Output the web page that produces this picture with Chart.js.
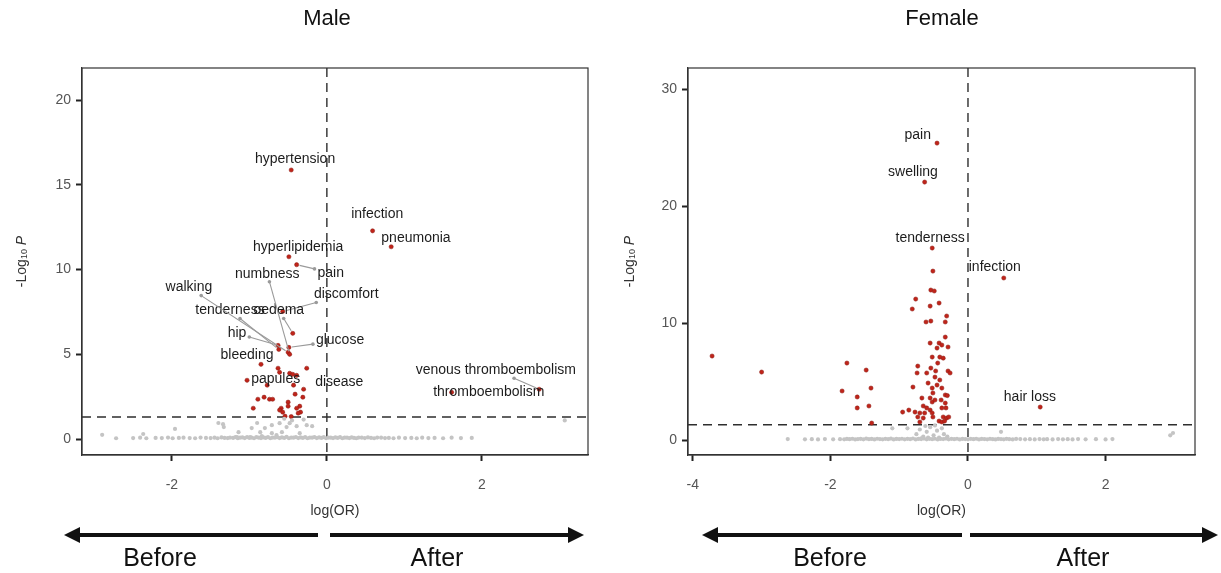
<!DOCTYPE html>
<html>
<head>
<meta charset="utf-8">
<script src="https://cdn.jsdelivr.net/npm/chart.js@4/dist/chart.umd.min.js"></script>
<style>
  body { margin: 0; background: #fff; width: 1221px; height: 573px; overflow: hidden; position: relative; font-family: "Liberation Sans", Arial, sans-serif; }
  canvas { position: absolute; top: 0; }
  #maleChart { left: 0; }
  #femaleChart { left: 610px; }
  .title { position: absolute; top: 3px; width: 200px; text-align: center; font-size: 22px; line-height: 30px; color: #111; }
  .side { position: absolute; top: 541px; width: 160px; text-align: center; font-size: 25px; line-height: 32px; color: #111; }
  svg { position: absolute; left: 0; top: 0; }
</style>
</head>
<body>
<canvas id="maleChart" width="610" height="530"></canvas>
<canvas id="femaleChart" width="611" height="530"></canvas>
<div class="title" style="left:227px">Male</div>
<div class="title" style="left:842px">Female</div>
<svg width="1221" height="573">
  <g fill="#111" stroke="#111">
    <line x1="76" y1="535" x2="318" y2="535" stroke-width="4"/>
    <polygon points="64,535 80,527 80,543" stroke="none"/>
    <line x1="330" y1="535" x2="572" y2="535" stroke-width="4"/>
    <polygon points="584,535 568,527 568,543" stroke="none"/>
    <line x1="714" y1="535" x2="962" y2="535" stroke-width="4"/>
    <polygon points="702,535 718,527 718,543" stroke="none"/>
    <line x1="970" y1="535" x2="1206" y2="535" stroke-width="4"/>
    <polygon points="1218,535 1202,527 1202,543" stroke="none"/>
  </g>
</svg>
<div class="side" style="left:80px">Before</div>
<div class="side" style="left:357px">After</div>
<div class="side" style="left:750px">Before</div>
<div class="side" style="left:1003px">After</div>
<script>
// ---- Male: significant points (log OR, -log10 P) ----
const maleSigX = [-0.46, 0.59, 0.83, -0.49, -0.39, -0.57, -0.44, -0.63, -0.62, -0.49, -0.50, -0.48, -0.85, -1.03, -0.26, 2.74, 1.61,
  -0.63, -0.61, -0.48, -0.44, -0.39, -0.77, -0.43, -0.30, -0.41, -0.81, -0.89, -0.74, -0.70, -0.31, -0.50, -0.59, -0.61, -0.95,
  -0.50, -0.35, -0.39, -0.34, -0.37, -0.57, -0.54, -0.46];
const maleSigY = [15.88, 12.29, 11.35, 10.76, 10.29, 7.53, 6.24, 5.53, 5.29, 5.41, 5.12, 5.00, 4.41, 3.47, 4.18, 2.94, 2.76,
  4.18, 3.94, 3.88, 3.82, 3.76, 3.18, 3.18, 2.94, 2.65, 2.47, 2.35, 2.35, 2.35, 2.47, 2.18, 1.82, 1.71, 1.82,
  1.94, 1.94, 1.82, 1.59, 1.53, 1.59, 1.35, 1.33];

// ---- Male: non-significant points ----
const maleNsX = [-2.90, -2.72, -2.37, -1.96, -1.40, -1.34, -1.33, -1.14, -0.97, -0.86, -0.80, -0.71, -0.61, -0.58, -0.52, -0.48,
  -0.39, -0.35, -0.26, -0.19, -0.71, -0.65, -0.84, -0.99, -1.16, -0.45, -0.30, -0.55, -0.90, 3.07,
  -2.50, -2.41, -2.33, -2.21, -2.13, -2.05, -1.99, -1.91, -1.85, -1.77, -1.70, -1.63, -1.56, -1.50, -1.45, -1.41, -1.36, -1.32,
  -1.28, -1.25, -1.21, -1.18, -1.15, -1.12, -1.09, -1.06, -1.03, -1.00, -0.97, -0.94, -0.91, -0.88, -0.85, -0.82, -0.79,
  -0.76, -0.73, -0.70, -0.67, -0.64, -0.61, -0.58, -0.55, -0.52, -0.49, -0.46, -0.43, -0.40, -0.37, -0.34, -0.31, -0.28,
  -0.25, -0.22, -0.19, -0.16, -0.13, -0.10, -0.07, -0.04, -0.01, 0.02, 0.05, 0.08, 0.11, 0.14, 0.17, 0.20, 0.23, 0.26,
  0.29, 0.32, 0.35, 0.38, 0.41, 0.45, 0.49, 0.53, 0.57, 0.61, 0.65, 0.70, 0.75, 0.80, 0.86,
  0.93, 1.01, 1.09, 1.16, 1.23, 1.31, 1.39, 1.50, 1.61, 1.73, 1.87];
const maleNsY = [0.25, 0.05, 0.30, 0.60, 0.95, 0.88, 0.71, 0.41, 0.65, 0.41, 0.65, 0.82, 0.94, 0.41, 0.71, 0.94,
  0.76, 0.35, 0.82, 0.76, 0.35, 0.24, 0.18, 0.12, 0.12, 1.10, 1.15, 1.20, 0.95, 1.10,
  0.06, 0.08, 0.05, 0.07, 0.06, 0.09, 0.05, 0.07, 0.08, 0.06, 0.05, 0.09, 0.07, 0.06, 0.08, 0.05, 0.10, 0.07,
  0.06, 0.09, 0.07, 0.11, 0.05, 0.08, 0.10, 0.06, 0.12, 0.07, 0.09, 0.05, 0.11, 0.08, 0.06, 0.10, 0.07,
  0.12, 0.05, 0.09, 0.08, 0.11, 0.06, 0.10, 0.07, 0.13, 0.05, 0.09, 0.08, 0.12, 0.06, 0.10, 0.07, 0.11,
  0.05, 0.09, 0.08, 0.12, 0.06, 0.10, 0.07, 0.11, 0.05, 0.09, 0.08, 0.06, 0.10, 0.07, 0.11, 0.05, 0.09, 0.08,
  0.06, 0.10, 0.07, 0.05, 0.09, 0.08, 0.06, 0.10, 0.07, 0.05, 0.09, 0.08, 0.06, 0.07, 0.05,
  0.08, 0.06, 0.07, 0.05, 0.08, 0.06, 0.07, 0.05, 0.08, 0.06, 0.07];

// ---- Male labels (text, label position in data units, index of labelled point, leader line) ----
const maleLabelText = ["hypertension", "infection", "pneumonia", "hyperlipidemia", "pain", "discomfort", "oedema", "hip",
  "tenderness", "glucose", "walking", "numbness", "bleeding", "papules", "disease", "venous thromboembolism", "thromboembolism"];
const maleLabelX = [-0.41, 0.65, 1.15, -0.37, 0.05, 0.25, -0.62, -1.16, -1.25, 0.17, -1.78, -0.77, -1.03, -0.66, 0.16, 2.18, 2.09];
const maleLabelY = [16.53, 13.29, 11.88, 11.35, 9.82, 8.53, 7.59, 6.24, 7.59, 5.82, 8.94, 9.76, 4.94, 3.53, 3.35, 4.06, 2.76];
const maleLabelPoint = [0, 1, 2, 3, 4, 5, 6, 7, 8, 9, 10, 11, 12, 13, 14, 15, 16];
const maleLabelLine = [false, false, false, false, true, true, true, true, true, true, true, true, false, false, false, true, false];

// ---- Female: significant points ----
const femaleSigX = [-0.45, -0.63, -0.52, 0.52, 1.05,
  -0.51, -0.54, -0.49, -0.76, -0.55, -0.42, -0.81, -0.31, -0.61, -0.54, -0.33, -0.33, -0.55, -0.42, -0.38, -0.45, -0.29,
  -0.52, -0.41, -0.36, -0.73, -0.44, -0.54, -0.29, -0.26, -0.74, -0.60, -0.47, -0.48, -0.41, -0.58, -0.45, -0.38, -0.80,
  -0.52, -0.51, -0.33, -0.30, -0.67, -0.55, -0.52, -0.48, -0.39, -0.33, -0.65, -0.60, -0.55, -0.95, -0.86, -0.77, -0.70,
  -0.63, -0.52, -0.38, -0.32, -0.73, -0.65, -0.51, -0.36, -0.31, -0.28, -0.70, -0.42, -0.38, -0.34,
  -3.72, -3.00, -1.76, -1.48, -1.83, -1.41, -1.61, -1.61, -1.44, -1.40];
const femaleSigY = [25.38, 22.05, 16.41, 13.85, 2.82,
  14.44, 12.82, 12.74, 12.05, 11.45, 11.71, 11.20, 10.60, 10.09, 10.17, 10.09, 8.80, 8.29, 8.29, 8.12, 7.86, 7.95,
  7.09, 7.09, 7.00, 6.32, 6.58, 6.15, 5.90, 5.73, 5.73, 5.73, 5.90, 5.38, 5.13, 4.87, 4.70, 4.44, 4.53,
  4.44, 4.02, 3.85, 3.80, 3.59, 3.59, 3.25, 3.42, 3.42, 3.16, 2.91, 2.74, 2.56, 2.39, 2.56, 2.39, 2.31,
  2.31, 2.31, 2.74, 2.74, 1.97, 1.88, 1.97, 1.97, 1.88, 1.97, 1.54, 1.62, 1.54, 1.62,
  7.18, 5.81, 6.58, 5.98, 4.19, 4.44, 3.68, 2.74, 2.91, 1.45];

// ---- Female: non-significant points ----
const femaleNsX = [-1.10, 0.48, 2.94, 2.98, -0.75, -0.70, -0.65, -0.60, -0.55, -0.50, -0.45, -0.42, -0.38, -0.35, -0.30,
  -0.62, -0.48, -0.58, -0.68, -0.88,
  -2.62, -2.37, -2.27, -2.18, -2.08, -1.96, -1.86,
  -1.80, -1.76, -1.72, -1.68, -1.64, -1.60, -1.56, -1.52, -1.48, -1.44, -1.40, -1.36, -1.32, -1.28, -1.24, -1.20, -1.16,
  -1.12, -1.08, -1.04, -1.00, -0.96, -0.92, -0.88, -0.84, -0.80, -0.76, -0.72, -0.68, -0.64, -0.60, -0.56, -0.52, -0.48,
  -0.44, -0.40, -0.36, -0.32, -0.28, -0.24, -0.20, -0.16, -0.12, -0.08, -0.04, 0.00, 0.04, 0.08, 0.12, 0.16, 0.20, 0.24,
  0.28, 0.32, 0.36, 0.40, 0.44, 0.48, 0.52, 0.56, 0.60, 0.65, 0.70,
  0.76, 0.83, 0.90, 0.97, 1.04, 1.10, 1.15, 1.23, 1.31, 1.38, 1.45, 1.52, 1.60, 1.71, 1.86, 2.00, 2.10];
const femaleNsY = [1.00, 0.70, 0.40, 0.60, 0.50, 0.90, 0.30, 0.70, 1.10, 0.40, 0.80, 0.20, 1.00, 0.50, 0.30,
  1.20, 1.25, 0.20, 0.15, 1.00,
  0.08, 0.06, 0.07, 0.05, 0.08, 0.06, 0.07,
  0.06, 0.09, 0.07, 0.11, 0.05, 0.08, 0.10, 0.06, 0.12, 0.07, 0.09, 0.05, 0.11, 0.08, 0.06, 0.10, 0.07,
  0.12, 0.05, 0.09, 0.08, 0.11, 0.06, 0.10, 0.07, 0.13, 0.05, 0.09, 0.08, 0.12, 0.06, 0.10, 0.07, 0.11,
  0.05, 0.09, 0.08, 0.12, 0.06, 0.10, 0.07, 0.11, 0.05, 0.09, 0.08, 0.06, 0.10, 0.07, 0.11, 0.05, 0.09, 0.08,
  0.06, 0.10, 0.07, 0.05, 0.09, 0.08, 0.06, 0.10, 0.07, 0.05, 0.09,
  0.08, 0.06, 0.07, 0.05, 0.08, 0.06, 0.07, 0.05, 0.08, 0.06, 0.07, 0.05, 0.08, 0.06, 0.07, 0.05, 0.08];

const femaleLabelText = ["pain", "swelling", "tenderness", "infection", "hair loss"];
const femaleLabelX = [-0.73, -0.80, -0.55, 0.39, 0.90];
const femaleLabelY = [26.07, 22.90, 17.26, 14.79, 3.68];
const femaleLabelPoint = [0, 1, 2, 3, 4];
const femaleLabelLine = [false, false, false, false, false];

// ---- axes ----
const maleXTicks = [-2, 0, 2];
const maleYTicks = [0, 5, 10, 15, 20];
const femaleXTicks = [-4, -2, 0, 2];
const femaleYTicks = [0, 10, 20, 30];
const pThreshold = 1.3; // -log10(0.05)

const FONT = '"Liberation Sans", Arial, sans-serif';
const RED = "#c0241a";
const GREY = "#c4c4c4";

function toPoints(xs, ys) {
  return xs.map((x, i) => ({ x: x, y: ys[i] }));
}

// dashed cut-off lines and the full panel border
const framePlugin = {
  id: "frame",
  beforeDatasetsDraw(chart) {
    const { ctx, chartArea: a, scales: { x, y } } = chart;
    ctx.save();
    ctx.strokeStyle = "#2e2e2e";
    ctx.lineWidth = 1.4;
    ctx.setLineDash([9, 6]);
    const px = x.getPixelForValue(0);
    ctx.beginPath();
    ctx.moveTo(px, a.top);
    ctx.lineTo(px, a.bottom);
    const py = y.getPixelForValue(pThreshold);
    ctx.moveTo(a.left, py);
    ctx.lineTo(a.right, py);
    ctx.stroke();
    ctx.restore();
  },
  afterDraw(chart) {
    const { ctx, chartArea: a } = chart;
    ctx.save();
    ctx.strokeStyle = "#333";
    ctx.lineWidth = 1.2;
    ctx.strokeRect(a.left, a.top, a.right - a.left, a.bottom - a.top);

    // y title: -Log10 P
    const cx = chart.options.plugins.frame.titleX;
    const cy = (a.top + a.bottom) / 2;
    const parts = [
      { t: "-Log", f: "14px " + FONT, dy: 0 },
      { t: "10", f: "9px " + FONT, dy: 3 },
      { t: " P", f: "italic 14px " + FONT, dy: 0 }
    ];
    let total = 0;
    parts.forEach(p => { ctx.font = p.f; p.w = ctx.measureText(p.t).width; total += p.w; });
    ctx.translate(cx, cy);
    ctx.rotate(-Math.PI / 2);
    ctx.fillStyle = "#333";
    ctx.textBaseline = "middle";
    let pos = -total / 2;
    parts.forEach(p => { ctx.font = p.f; ctx.fillText(p.t, pos, p.dy); pos += p.w; });
    ctx.restore();
  }
};

// text labels with leader lines
const labelPlugin = {
  id: "labels",
  afterDatasetsDraw(chart) {
    const o = chart.options.plugins.labels;
    const { ctx, scales: { x, y } } = chart;
    ctx.save();
    ctx.font = "14px " + FONT;
    ctx.textAlign = "center";
    ctx.textBaseline = "middle";
    o.text.forEach((t, i) => {
      const lx = x.getPixelForValue(o.lx[i]);
      const ly = y.getPixelForValue(o.ly[i]);
      const pt = o.points[o.point[i]];
      const tx = x.getPixelForValue(pt.x);
      const ty = y.getPixelForValue(pt.y);
      if (o.line[i]) {
        const w = ctx.measureText(t).width / 2 + 3;
        const h = 8;
        const dx = tx - lx, dy = ty - ly;
        const s = Math.min(dx !== 0 ? w / Math.abs(dx) : 99, dy !== 0 ? h / Math.abs(dy) : 99);
        const sx = lx + dx * s, sy = ly + dy * s;
        const len = Math.hypot(tx - sx, ty - sy);
        const ex = tx - (tx - sx) / len * 3, ey = ty - (ty - sy) / len * 3;
        ctx.strokeStyle = "#9a9a9a";
        ctx.fillStyle = "#9a9a9a";
        ctx.lineWidth = 1.1;
        ctx.beginPath();
        ctx.moveTo(sx, sy);
        ctx.lineTo(ex, ey);
        ctx.stroke();
        ctx.beginPath();
        ctx.arc(sx, sy, 1.8, 0, Math.PI * 2);
        ctx.fill();
      }
      ctx.fillStyle = "#1c1c1c";
      ctx.fillText(t, lx, ly);
    });
    ctx.restore();
  }
};

function makeChart(id, cfg) {
  const sig = toPoints(cfg.sigX, cfg.sigY);
  return new Chart(document.getElementById(id), {
    type: "scatter",
    data: {
      datasets: [
        { data: toPoints(cfg.nsX, cfg.nsY), backgroundColor: GREY, borderWidth: 0, pointRadius: 2.1 },
        { data: sig, backgroundColor: RED, borderColor: "#8a1a12", borderWidth: 0.5, pointRadius: 2.1 }
      ]
    },
    options: {
      responsive: false,
      animation: false,
      layout: { padding: { top: 68, right: cfg.padRight, left: 0, bottom: 0 } },
      plugins: {
        legend: { display: false },
        tooltip: { enabled: false },
        frame: { titleX: cfg.titleX },
        labels: { text: cfg.labelText, lx: cfg.labelX, ly: cfg.labelY, point: cfg.labelPoint, line: cfg.labelLine, points: sig }
      },
      scales: {
        x: {
          type: "linear",
          min: cfg.xMin, max: cfg.xMax,
          afterBuildTicks: s => { s.ticks = cfg.xTicks.map(v => ({ value: v })); },
          afterFit: s => { s.height = 75; },
          grid: { drawOnChartArea: false, drawTicks: true, tickLength: 6, tickColor: "#222", tickWidth: 2 },
          border: { display: true, color: "#333", width: 1.2 },
          ticks: { color: "#555", font: { family: FONT, size: 14 }, padding: 16 },
          title: { display: true, text: "log(OR)", color: "#333", font: { family: FONT, size: 14 }, padding: { top: 4, bottom: 10 } }
        },
        y: {
          type: "linear",
          min: cfg.yMin, max: cfg.yMax,
          afterBuildTicks: s => { s.ticks = cfg.yTicks.map(v => ({ value: v })); },
          afterFit: s => { s.width = cfg.yWidth; },
          grid: { drawOnChartArea: false, drawTicks: true, tickLength: 6, tickColor: "#222", tickWidth: 2 },
          border: { display: true, color: "#333", width: 1.2 },
          ticks: { color: "#555", font: { family: FONT, size: 14 }, padding: 5 }
        }
      }
    },
    plugins: [framePlugin, labelPlugin]
  });
}

makeChart("maleChart", {
  sigX: maleSigX, sigY: maleSigY, nsX: maleNsX, nsY: maleNsY,
  labelText: maleLabelText, labelX: maleLabelX, labelY: maleLabelY, labelPoint: maleLabelPoint, labelLine: maleLabelLine,
  xTicks: maleXTicks, yTicks: maleYTicks,
  xMin: -3.16, xMax: 3.37, yMin: -0.94, yMax: 21.9,
  yWidth: 82, padRight: 22, titleX: 22
});

makeChart("femaleChart", {
  sigX: femaleSigX, sigY: femaleSigY, nsX: femaleNsX, nsY: femaleNsY,
  labelText: femaleLabelText, labelX: femaleLabelX, labelY: femaleLabelY, labelPoint: femaleLabelPoint, labelLine: femaleLabelLine,
  xTicks: femaleXTicks, yTicks: femaleYTicks,
  xMin: -4.07, xMax: 3.30, yMin: -1.28, yMax: 31.8,
  yWidth: 78, padRight: 26, titleX: 20
});
</script>
</body>
</html>
